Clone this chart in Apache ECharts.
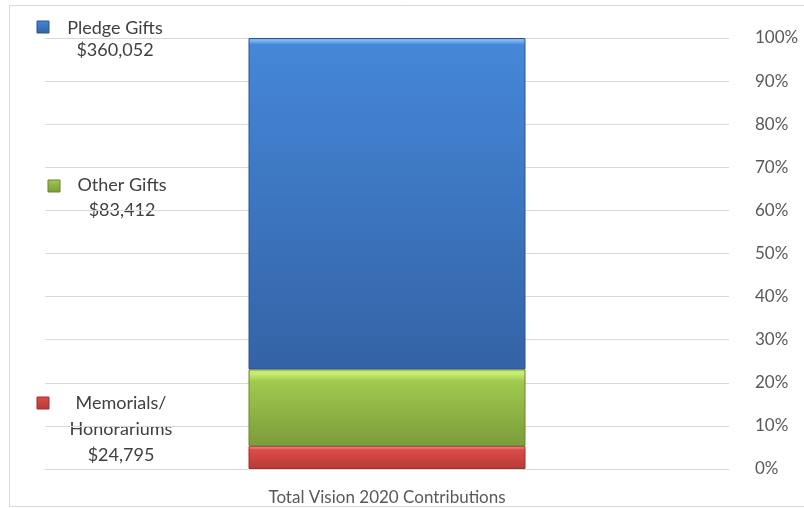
<!DOCTYPE html>
<html>
<head>
<meta charset="utf-8">
<script src="https://cdn.jsdelivr.net/npm/echarts@6/dist/echarts.min.js"></script>
<style>
  html, body { margin: 0; padding: 0; background: #fff; }
  #main { width: 804px; height: 508px; }
</style>
</head>
<body>
<div id="main"></div>
<script>
// stacked from the bottom up
const categories = ['Total Vision 2020 Contributions'];
const seriesNames = ['Memorials/\nHonorariums', 'Other Gifts', 'Pledge Gifts'];
const seriesAmounts = [24795, 83412, 360052];
// highlight, top of body, bottom of body, border
const seriesColors = [
  ['#f58585', '#dc4c48', '#b53a36', '#9e2f2c'],
  ['#c6ec72', '#a0ca4e', '#7c9b3a', '#6a8530'],
  ['#80b5f0', '#4587d8', '#3463a6', '#2a5590']
];
const yTicks = [0, 10, 20, 30, 40, 50, 60, 70, 80, 90, 100];

const total = seriesAmounts.reduce((a, b) => a + b, 0);
const fmtMoney = v => '$' + v.toLocaleString('en-US');

let el = document.getElementById('main');
let myChart = echarts.init(el);

let series = seriesNames.map((name, i) => ({
  name: name,
  type: 'bar',
  stack: 'total',
  barWidth: 277,
  data: [seriesAmounts[i] / total * 100],
  itemStyle: {
    color: new echarts.graphic.LinearGradient(0, 0, 0, 1, [
      {offset: 0, color: seriesColors[i][0]},
      {offset: i === 2 ? 0.008 : 0.06, color: seriesColors[i][0]},
      {offset: i === 2 ? 0.02 : 0.15, color: seriesColors[i][1]},
      {offset: 1, color: seriesColors[i][2]}
    ]),
    borderColor: seriesColors[i][3],
    borderWidth: 1
  }
}));

// label blocks at the left, like the excel callouts
const labelSpots = [
  {mx: 37, my: 397, tx: 121, ty: 390, lh: 26},
  {mx: 48, my: 180, tx: 122, ty: 173, lh: 25},
  {mx: 37, my: 21, tx: 115, ty: 17, lh: 22}
];
let graphics = [{
  type: 'rect',
  shape: {x: 9.5, y: 5.5, width: 800, height: 501},
  style: {fill: 'none', stroke: '#d9d9d9', lineWidth: 1},
  silent: true
}];
seriesNames.forEach((name, i) => {
  const s = labelSpots[i];
  graphics.push({
    type: 'rect',
    shape: {x: s.mx, y: s.my, width: 12, height: 12},
    style: {
      fill: new echarts.graphic.LinearGradient(0, 0, 0, 1, [
        {offset: 0, color: seriesColors[i][1]},
        {offset: 1, color: seriesColors[i][2]}
      ]),
      stroke: seriesColors[i][3], lineWidth: 1
    }
  });
  graphics.push({
    type: 'text',
    x: s.tx,
    y: s.ty,
    style: {
      text: name + '\n' + fmtMoney(seriesAmounts[i]),
      textAlign: 'center',
      fontFamily: 'Lato',
      fontSize: 18,
      lineHeight: s.lh,
      fill: '#404040'
    }
  });
});

let option = {
  animation: false,
  grid: {left: 45, right: 75, top: 38, bottom: 39},
  xAxis: {
    type: 'category',
    data: categories,
    axisLine: {lineStyle: {color: '#d9d9d9'}},
    axisTick: {show: false},
    axisLabel: {color: '#595959', fontFamily: 'Lato', fontSize: 17, margin: 20}
  },
  yAxis: {
    type: 'value',
    position: 'right',
    min: yTicks[0],
    max: yTicks[yTicks.length - 1],
    interval: 10,
    axisLine: {show: false},
    axisTick: {show: false},
    splitLine: {lineStyle: {color: '#d9d9d9'}},
    axisLabel: {
      color: '#595959', fontFamily: 'Lato', fontSize: 17, margin: 26,
      formatter: v => v + '%'
    }
  },
  series: series,
  graphic: graphics
};
myChart.setOption(option);
</script>
</body>
</html>
